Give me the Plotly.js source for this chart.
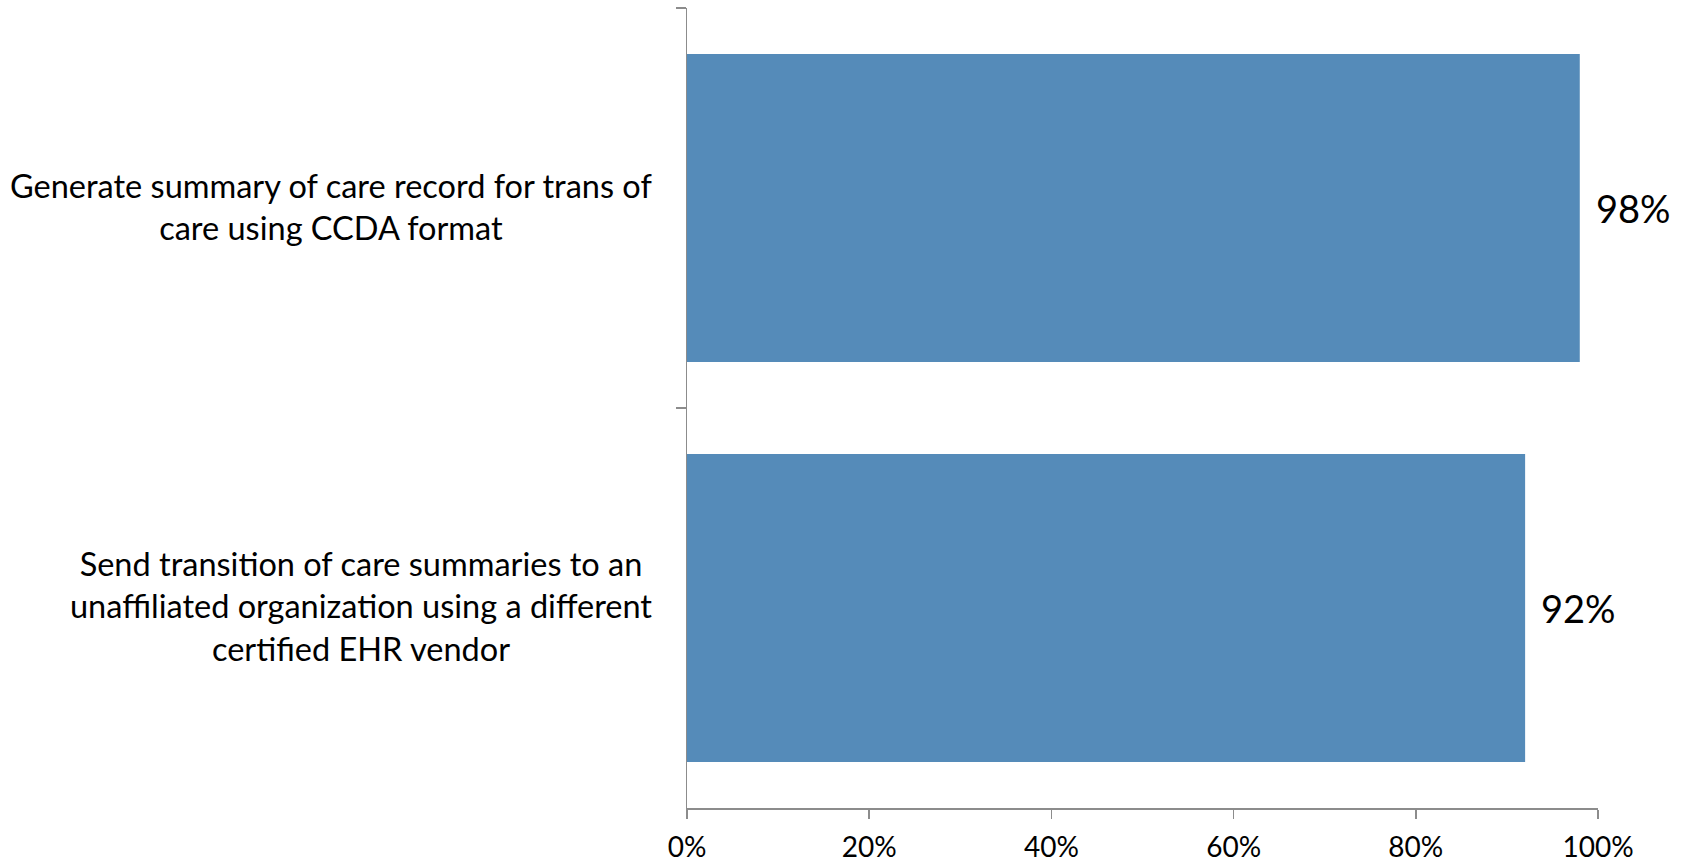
<!DOCTYPE html>
<html>
<head>
<meta charset="utf-8">
<script src="https://cdn.plot.ly/plotly-3.0.1.min.js"></script>
<style>html,body{margin:0;padding:0;background:#fff;}#chart{width:1685px;height:862px;}</style>
</head>
<body>
<div id="chart"></div>
<script>
const categories = [
  "Generate summary of care record for trans of<br>care using CCDA format",
  "Send transition of care summaries to an<br>unaffiliated organization using a different<br>certified EHR vendor"
];
const values = [0.98, 0.92];
const valueLabels = ["98%", "92%"];
const xTickVals = [0, 0.2, 0.4, 0.6, 0.8, 1.0];
const xTickText = ["0%", "20%", "40%", "60%", "80%", "100%"];

const FONT = "Lato, 'Liberation Sans', sans-serif";
const barColor = "#558BB9";
const axisColor = "#8C8C8C";

const trace = {
  type: "bar",
  orientation: "h",
  x: values,
  y: categories,
  marker: {color: barColor},
  hoverinfo: "none"
};

const annotations = [];
categories.forEach((c, i) => {
  annotations.push({
    xref: "paper", yref: "y", x: 0, y: c,
    xanchor: "right", yanchor: "middle", align: "center",
    xshift: -33, yshift: 2, showarrow: false,
    text: c,
    font: {family: FONT, size: 32.5, color: "#000"}
  });
  annotations.push({
    xref: "x", yref: "y", x: values[i], y: c,
    xanchor: "left", yanchor: "middle",
    xshift: 14, showarrow: false,
    text: valueLabels[i],
    font: {family: FONT, size: 38, color: "#000"}
  });
});

const layout = {
  width: 1685, height: 862,
  margin: {l: 687, r: 87, t: 8, b: 54, pad: 0},
  paper_bgcolor: "#fff", plot_bgcolor: "#fff",
  showlegend: false,
  bargap: 0.23,
  font: {family: FONT, size: 28, color: "#000"},
  xaxis: {
    range: [0, 1], tickvals: xTickVals, ticktext: xTickText,
    showgrid: false, zeroline: false,
    showline: true, linecolor: axisColor, linewidth: 1.5,
    ticks: "outside", ticklen: 9, tickwidth: 1.5, tickcolor: axisColor,
    ticklabelstandoff: 5,
    tickfont: {family: FONT, size: 28, color: "#000"},
    fixedrange: true
  },
  yaxis: {
    type: "category", autorange: "reversed",
    showgrid: false, zeroline: false,
    showline: true, linecolor: axisColor, linewidth: 1.5,
    ticks: "outside", ticklen: 10, tickwidth: 1.5, tickcolor: axisColor,
    tickson: "boundaries",
    showticklabels: false,
    fixedrange: true
  },
  annotations: annotations
};

Plotly.newPlot("chart", [trace], layout, {displayModeBar: false, staticPlot: true});
</script>
</body>
</html>
